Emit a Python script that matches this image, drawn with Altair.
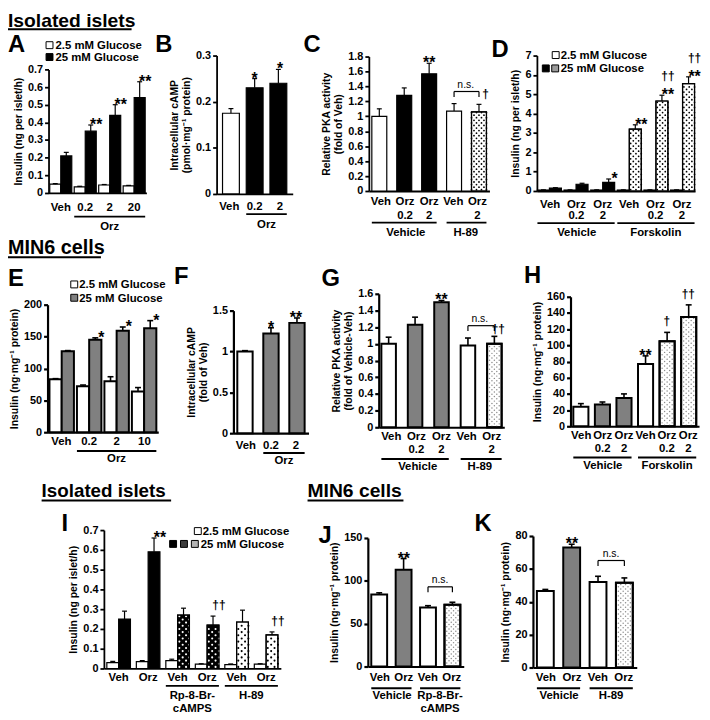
import altair as alt
import pandas as pd

FONT = "Liberation Sans"
W, H = 702, 712
MARGIN = 8

# ---------------- data ----------------
A_labels = ["Veh", "0.2", "2", "20"]
A_low = [0.050, 0.035, 0.045, 0.040]
A_low_err = [0.053, 0.038, 0.048, 0.043]
A_high = [0.21, 0.35, 0.44, 0.54]
A_high_err = [0.23, 0.385, 0.50, 0.63]
A_sig = ["", "**", "**", "**"]

B_labels = ["Veh", "0.2", "2"]
B_vals = [0.175, 0.23, 0.24]
B_err = [0.185, 0.25, 0.27]
B_sig = ["", "*", "*"]

C_row1 = ["Veh", "Orz", "Orz", "Veh", "Orz"]
C_row2 = ["", "0.2", "2", "", "2"]
C_vals = [1.00, 1.28, 1.57, 1.07, 1.06]
C_err = [1.10, 1.38, 1.71, 1.17, 1.16]
C_sig = ["", "", "**", "", ""]

D_row1 = ["Veh", "Orz", "Orz", "Veh", "Orz", "Orz"]
D_row2 = ["", "0.2", "2", "", "0.2", "2"]
D_low = [0.05, 0.05, 0.05, 0.05, 0.05, 0.05]
D_low_err = [0.06, 0.06, 0.06, 0.06, 0.06, 0.06]
D_high = [0.15, 0.35, 0.45, 3.20, 4.65, 5.55]
D_high_err = [0.17, 0.40, 0.62, 3.42, 4.95, 5.90]
D_sig = ["", "", "*", "**", "**††", "**††"]

E_labels = ["Veh", "0.2", "2", "10"]
E_low = [83, 72, 80, 64]
E_low_err = [84, 74, 87, 70]
E_high = [127, 145, 159, 163]
E_high_err = [128, 148, 165, 175]
E_sig = ["", "*", "*", "*"]

F_labels = ["Veh", "0.2", "2"]
F_vals = [1.00, 1.22, 1.35]
F_err = [1.01, 1.29, 1.41]
F_sig = ["", "*", "**"]

G_row1 = ["Veh", "Orz", "Orz", "Veh", "Orz"]
G_row2 = ["", "0.2", "2", "", "2"]
G_vals = [1.00, 1.23, 1.50, 0.98, 1.00]
G_err = [1.08, 1.32, 1.52, 1.07, 1.09]
G_sig = ["", "", "**", "", ""]

H_row1 = ["Veh", "Orz", "Orz", "Veh", "Orz", "Orz"]
H_row2 = ["", "0.2", "2", "", "0.2", "2"]
H_vals = [24, 27, 35, 77, 105, 135]
H_err = [28, 30, 40, 87, 116, 150]
H_sig = ["", "", "", "**", "†", "††"]

I_labels = ["Veh", "Orz", "Veh", "Orz", "Veh", "Orz"]
I_low = [0.030, 0.035, 0.040, 0.022, 0.020, 0.022]
I_low_err = [0.036, 0.040, 0.047, 0.024, 0.023, 0.024]
I_high = [0.25, 0.59, 0.27, 0.22, 0.235, 0.17]
I_high_err = [0.29, 0.66, 0.305, 0.265, 0.295, 0.185]
I_sig = ["", "**", "", "††", "", "††"]

J_labels = ["Veh", "Orz", "Veh", "Orz"]
J_vals = [84, 113, 69, 72]
J_err = [86, 126, 71, 75]
J_sig = ["", "**", "", ""]

K_labels = ["Veh", "Orz", "Veh", "Orz"]
K_vals = [46.5, 73, 52, 51.5]
K_err = [47.5, 75, 55.5, 54.5]
K_sig = ["", "**", "", ""]

LEG_LOW = "2.5 mM Glucose"
LEG_HIGH = "25 mM Glucose"

# ---------------- styles ----------------
KINDS = ["white", "black", "gray", "dots", "darkdots", "lightdots", "finedots"]
FILL = {"white": "white", "black": "black", "gray": "#808080", "dots": "white",
        "darkdots": "black", "lightdots": "white", "finedots": "white"}
SWATCH = {"white": "white", "black": "black", "gray": "#808080", "dots": "#9a9a9a",
          "darkdots": "#3c3c3c", "lightdots": "#b4b4b4", "finedots": "#d8d8d8"}
DOTS = {
    "dots": dict(color="black", size=3.2, gap=2.6, hgap=2.3),
    "darkdots": dict(color="white", size=4.5, gap=3.2, hgap=2.8),
    "lightdots": dict(color="black", size=4.5, gap=3.2, hgap=2.8),
    "finedots": dict(color="#8c8c8c", size=2.2, gap=2.3, hgap=2.1),
}

ONE = pd.DataFrame({"k": [0]})
layers = []


def P(v):
    return v - MARGIN


def add_text(text, x, y, size, weight="bold", align="left", baseline="alphabetic"):
    layers.append(alt.Chart(ONE).mark_text(
        text=text, font=FONT, fontSize=size, fontWeight=weight, align=align,
        baseline=baseline, color="black", opacity=1
    ).encode(x=alt.value(P(x)), y=alt.value(P(y))))


def add_hline(x0, x1, y, w):
    layers.append(alt.Chart(ONE).mark_rule(color="black", strokeWidth=w, opacity=1).encode(
        x=alt.value(P(x0)), x2=alt.value(P(x1)), y=alt.value(P(y))))


def add_swatch(kind, x, y, side=7):
    layers.append(alt.Chart(ONE).mark_square(
        size=side * side, fill=SWATCH[kind], stroke="black", strokeWidth=1, opacity=1
    ).encode(x=alt.value(P(x)), y=alt.value(P(y))))


def add_panel(c):
    n = len(c["row1"])
    keys = [f"{c['id']}{i}" for i in range(n)]
    series = c["series"]
    nser = len(series)
    step = (c["x1"] - c["x0"]) / (n - c["pi"] + 2 * c["po"])
    band = step * (1 - c["pi"])
    barw = band / nser
    ppu = (c["yb"] - c["yt"]) / c["ymax"]
    xs = alt.Scale(domain=keys, range=[P(c["x0"]), P(c["x1"])],
                   paddingInner=c["pi"], paddingOuter=c["po"])
    ys = alt.Scale(domain=[0, c["ymax"]], range=[P(c["yb"]), P(c["yt"])], nice=False)
    recs = []
    for si, s in enumerate(series):
        for i in range(n):
            sig = s["sig"][i] if s.get("sig") else ""
            recs.append({"cat": keys[i], "ser": s["name"], "si": si, "v": s["vals"][i],
                         "e": s["errs"][i], "kind": s["kinds"][i],
                         "ast": "*" * sig.count("*"), "dag": "†" * sig.count("†")})
    df = pd.DataFrame(recs)

    def X(axis=None):
        return alt.X("cat:N", scale=xs, axis=axis)

    def Yq(field, axis=None):
        return alt.Y(field, scale=ys, axis=axis)

    off = {}
    if nser > 1:
        off = {"xOffset": alt.XOffset("ser:N", scale=alt.Scale(
            domain=[s["name"] for s in series], paddingInner=0, paddingOuter=0))}

    yaxis = alt.Axis(
        orient="left", offset=-P(c["x0"]), values=c["ticks"], format="~r", title=c["title"],
        grid=False, domainColor="black", domainWidth=c["axw"], tickColor="black",
        tickWidth=c["axw"], tickSize=4, labelPadding=2, labelFont=FONT, labelFontSize=11,
        labelFontWeight="bold", labelColor="black", labelOverlap=False,
        titleFont=FONT, titleFontSize=10.5, titleFontWeight="bold", titleColor="black",
        titlePadding=c.get("tpad", 4))
    xaxis = alt.Axis(orient="bottom", offset=P(c["yb"]) - H, labels=False, ticks=False,
                     title="", grid=False, domainColor="black", domainWidth=c["axw"])

    # bars
    layers.append(alt.Chart(df).mark_bar(stroke="black", strokeWidth=c["sw"], opacity=1).encode(
        x=X(xaxis), y=Yq("v:Q", yaxis),
        color=alt.Color("kind:N", scale=alt.Scale(domain=KINDS, range=[FILL[k] for k in KINDS]),
                        legend=None), **off))

    # dotted textures
    for kind, d in DOTS.items():
        sub = df[df.kind == kind]
        if sub.empty:
            continue
        nc = max(2, int(round(barw / d["hgap"])))
        dv = d["gap"] / ppu
        rows = []
        for r in sub.itertuples():
            k = 0
            while (k + 0.8) * dv < r.v:
                for j in range(nc):
                    if (j + k) % 2 == 0:
                        rows.append({"cat": r.cat, "col": r.si * nc + j, "y": (k + 0.5) * dv})
                k += 1
        if not rows:
            continue
        ddf = pd.DataFrame(rows)
        layers.append(alt.Chart(ddf).mark_circle(size=d["size"], color=d["color"], opacity=1).encode(
            x=X(), y=Yq("y:Q"),
            xOffset=alt.XOffset("col:O", scale=alt.Scale(domain=list(range(nc * nser)),
                                                         paddingInner=0, paddingOuter=0))))
    dd = df[df.kind.isin(list(DOTS))]
    if not dd.empty:
        layers.append(alt.Chart(dd).mark_bar(stroke="black", strokeWidth=c["sw"], fillOpacity=0,
                                             opacity=1).encode(x=X(), y=Yq("v:Q"), **off))

    # error bars
    de = df[df.e > df.v + 1e-9]
    layers.append(alt.Chart(de).mark_rule(color="black", strokeWidth=c["ew"], opacity=1).encode(
        x=X(), y=Yq("v:Q"), y2="e:Q", **off))
    layers.append(alt.Chart(de).mark_tick(color="black", thickness=c["ew"], size=c["cap"],
                                          orient="horizontal", opacity=1).encode(
        x=X(), y=Yq("e:Q"), **off))

    # significance marks
    da = df[df.ast != ""]
    if not da.empty:
        layers.append(alt.Chart(da).mark_text(font=FONT, fontSize=16, fontWeight="bold",
                                              baseline="alphabetic", dy=5, color="black", opacity=1).encode(
            x=X(), y=Yq("e:Q"), text="ast:N", **off))
    dg1 = df[(df.dag != "") & (df.ast == "")]
    if not dg1.empty:
        layers.append(alt.Chart(dg1).mark_text(font=FONT, fontSize=12, fontWeight="bold",
                                               baseline="alphabetic", dy=-7, color="black", opacity=1).encode(
            x=X(), y=Yq("e:Q"), text="dag:N", **off))
    dg2 = df[(df.dag != "") & (df.ast != "")]
    if not dg2.empty:
        layers.append(alt.Chart(dg2).mark_text(font=FONT, fontSize=12, fontWeight="bold",
                                               baseline="alphabetic", dy=-15, color="black", opacity=1).encode(
            x=X(), y=Yq("e:Q"), text="dag:N", **off))

    # n.s. bracket
    if "ns" in c:
        a, b = c["ns"]
        errs = series[-1]["errs"]
        lvl = max(errs[a], errs[b]) + c["ns_pad"] * c["ymax"]
        leg = 5.5 / ppu
        bdf = pd.DataFrame({"s": [keys[a]], "t": [keys[b]], "lvl": [lvl]})
        layers.append(alt.Chart(bdf).mark_rule(color="black", strokeWidth=1.2, opacity=1).encode(
            x=alt.X("s:N", scale=xs, axis=None, bandPosition=0.5),
            x2=alt.X2("t:N", bandPosition=0.5), y=Yq("lvl:Q")))
        legs = pd.DataFrame({"cat": [keys[a], keys[b]], "lvl": [lvl, lvl],
                             "low": [lvl - leg, lvl - leg]})
        layers.append(alt.Chart(legs).mark_rule(color="black", strokeWidth=1.2, opacity=1).encode(
            x=X(), y=Yq("lvl:Q"), y2="low:Q"))
        layers.append(alt.Chart(bdf).mark_text(text="n.s.", font=FONT, fontSize=10.5,
                                               baseline="bottom", dx=step / 2, dy=-2,
                                               color="black", opacity=1).encode(
            x=alt.X("s:N", scale=xs, axis=None), y=Yq("lvl:Q")))
        if c.get("ns_dag"):
            layers.append(alt.Chart(bdf).mark_text(text=c["ns_dag"], font=FONT, fontSize=12,
                                                   fontWeight="bold", align="left", baseline="middle",
                                                   dx=c.get("ns_dx", 5), dy=3, color="black",
                                                   opacity=1).encode(
                x=alt.X("t:N", scale=xs, axis=None), y=Yq("lvl:Q")))

    # category labels
    ldf = pd.DataFrame({"cat": keys, "r1": c["row1"],
                        "r2": c["row2"] if c.get("row2") else [""] * n})
    layers.append(alt.Chart(ldf).mark_text(font=FONT, fontSize=11.5, fontWeight="bold",
                                           baseline="middle", color="black", opacity=1).encode(
        x=X(), y=alt.value(P(c["lab1"])), text="r1:N"))
    if c.get("row2"):
        layers.append(alt.Chart(ldf).mark_text(font=FONT, fontSize=11.5, fontWeight="bold",
                                               baseline="middle", color="black", opacity=1).encode(
            x=X(), y=alt.value(P(c["lab2"])), text="r2:N"))

    # treatment groups
    for (s, t, lines) in c["groups"]:
        g = pd.DataFrame({"s": [keys[s]], "t": [keys[t]]})
        layers.append(alt.Chart(g).mark_rule(color="black", strokeWidth=c["gw"], opacity=1).encode(
            x=alt.X("s:N", scale=xs, axis=None, bandPosition=0),
            x2=alt.X2("t:N", bandPosition=1), y=alt.value(P(c["gline"]))))
        half = (t - s) * step / 2
        for li, line in enumerate(lines):
            layers.append(alt.Chart(g).mark_text(text=line, font=FONT, fontSize=11.5,
                                                 fontWeight="bold", baseline="middle", dx=half,
                                                 color="black", opacity=1).encode(
                x=alt.X("s:N", scale=xs, axis=None),
                y=alt.value(P(c["glab"] + 13 * li))))


ISLET = dict(sw=1.2, axw=1.8, ew=1.2, cap=5, gw=1.8)
MIN6 = dict(sw=2.0, axw=2.2, ew=1.6, cap=6, gw=2.0)
INS_ISLET = "Insulin (ng per islet/h)"
INS_MIN6 = "Insulin (ng·mg⁻¹ protein)"

panels = [
    dict(id="A", row1=A_labels, row2=None,
         series=[dict(name="lo", vals=A_low, errs=A_low_err, kinds=["white"] * 4),
                 dict(name="hi", vals=A_high, errs=A_high_err, kinds=["black"] * 4, sig=A_sig)],
         x0=49, x1=148, pi=0.1, po=0.05, yb=191, yt=66, ymax=0.7,
         ticks=[0, 0.1, 0.2, 0.3, 0.4, 0.5, 0.6, 0.7], title=INS_ISLET,
         lab1=206.5, gline=215, glab=225, groups=[(1, 3, ["Orz"])], **ISLET),
    dict(id="B", row1=B_labels, row2=None,
         series=[dict(name="one", vals=B_vals, errs=B_err, kinds=["white", "black", "black"], sig=B_sig)],
         x0=219, x1=296, pi=0.29, po=0.25, yb=192, yt=52, ymax=0.3,
         ticks=[0, 0.1, 0.2, 0.3], title=["Intracellular cAMP", "(pmol·mg⁻¹ protein)"],
         lab1=205, gline=212.5, glab=223, groups=[(1, 2, ["Orz"])], **ISLET),
    dict(id="C", row1=C_row1, row2=C_row2,
         series=[dict(name="one", vals=C_vals, errs=C_err,
                      kinds=["white", "black", "black", "white", "dots"], sig=C_sig)],
         x0=373, x1=495, pi=0.4, po=0.12, yb=189, yt=53, ymax=1.8,
         ticks=[0, 0.2, 0.4, 0.6, 0.8, 1, 1.2, 1.4, 1.6, 1.8],
         title=["Relative PKA activity", "(fold of Veh)"],
         lab1=200, lab2=214.5, gline=221, glab=231.5,
         groups=[(0, 2, ["Vehicle"]), (3, 4, ["H-89"])],
         ns=(3, 4), ns_pad=0.09, ns_dag="†", ns_dx=5, **ISLET),
    dict(id="D", row1=D_row1, row2=D_row2,
         series=[dict(name="lo", vals=D_low, errs=D_low_err, kinds=["white"] * 6),
                 dict(name="hi", vals=D_high, errs=D_high_err,
                      kinds=["black", "black", "black", "dots", "dots", "dots"], sig=D_sig)],
         x0=543, x1=703, pi=0.1, po=0.02, yb=189, yt=52, ymax=7,
         ticks=[0, 1, 2, 3, 4, 5, 6, 7], title=INS_ISLET,
         lab1=203, lab2=214.5, gline=221.5, glab=232,
         groups=[(0, 2, ["Vehicle"]), (3, 5, ["Forskolin"])], **ISLET),
    dict(id="E", row1=E_labels, row2=None,
         series=[dict(name="lo", vals=E_low, errs=E_low_err, kinds=["white"] * 4),
                 dict(name="hi", vals=E_high, errs=E_high_err, kinds=["gray"] * 4, sig=E_sig)],
         x0=48, x1=160, pi=0.11, po=0.07, yb=433, yt=304, ymax=200,
         ticks=[0, 50, 100, 150, 200], title=INS_MIN6,
         lab1=443, gline=452, glab=460.5, groups=[(1, 3, ["Orz"])], **MIN6),
    dict(id="F", row1=F_labels, row2=None,
         series=[dict(name="one", vals=F_vals, errs=F_err, kinds=["white", "gray", "gray"], sig=F_sig)],
         x0=236, x1=312, pi=0.41, po=0.15, yb=434, yt=310, ymax=1.5,
         ticks=[0, 0.5, 1, 1.5], title=["Intracellular cAMP", "(fold of Veh)"],
         lab1=447, gline=454, glab=462, groups=[(1, 2, ["Orz"])], **MIN6),
    dict(id="G", row1=G_row1, row2=G_row2,
         series=[dict(name="one", vals=G_vals, errs=G_err,
                      kinds=["white", "gray", "gray", "white", "finedots"], sig=G_sig)],
         x0=383, x1=510, pi=0.45, po=0.1, yb=428, yt=293, ymax=1.6,
         ticks=[0, 0.2, 0.4, 0.6, 0.8, 1, 1.2, 1.4, 1.6],
         title=["Relative PKA activity", "(fold of Vehicle-Veh)"],
         lab1=438, lab2=451.5, gline=460, glab=468,
         groups=[(0, 2, ["Vehicle"]), (3, 4, ["H-89"])],
         ns=(3, 4), ns_pad=0.08, ns_dag="††", ns_dx=0, **MIN6),
    dict(id="H", row1=H_row1, row2=H_row2,
         series=[dict(name="one", vals=H_vals, errs=H_err,
                      kinds=["white", "gray", "gray", "white", "finedots", "finedots"], sig=H_sig)],
         x0=577, x1=707, pi=0.3, po=0.13, yb=427, yt=296, ymax=160,
         ticks=[0, 20, 40, 60, 80, 100, 120, 140, 160], title=INS_MIN6,
         lab1=437, lab2=450, gline=458.5, glab=467,
         groups=[(0, 2, ["Vehicle"]), (3, 5, ["Forskolin"])], **MIN6),
    dict(id="I", row1=I_labels, row2=None,
         series=[dict(name="lo", vals=I_low, errs=I_low_err, kinds=["white"] * 6),
                 dict(name="hi", vals=I_high, errs=I_high_err,
                      kinds=["black", "black", "darkdots", "darkdots", "lightdots", "lightdots"],
                      sig=I_sig)],
         x0=105, x1=284, pi=0.2, po=0.1, yb=672, yt=532, ymax=0.7,
         ticks=[0, 0.1, 0.2, 0.3, 0.4, 0.5, 0.6, 0.7], title=INS_ISLET,
         lab1=682, gline=689.5, glab=700,
         groups=[(2, 3, ["Rp-8-Br-", "cAMPS"]), (4, 5, ["H-89"])], **ISLET),
    dict(id="J", row1=J_labels, row2=None,
         series=[dict(name="one", vals=J_vals, errs=J_err,
                      kinds=["white", "gray", "white", "finedots"], sig=J_sig)],
         x0=372, x1=469, pi=0.35, po=0.14, yb=670, yt=540, ymax=150,
         ticks=[0, 50, 100, 150], title=INS_MIN6,
         lab1=682, gline=692, glab=700,
         groups=[(0, 1, ["Vehicle"]), (2, 3, ["Rp-8-Br-", "cAMPS"])],
         ns=(2, 3), ns_pad=0.12, **MIN6),
    dict(id="K", row1=K_labels, row2=None,
         series=[dict(name="one", vals=K_vals, errs=K_err,
                      kinds=["white", "gray", "white", "finedots"], sig=K_sig)],
         x0=539, x1=644, pi=0.36, po=0.15, yb=671, yt=538, ymax=80,
         ticks=[0, 20, 40, 60, 80], title=INS_MIN6,
         lab1=682, gline=692, glab=700,
         groups=[(0, 1, ["Vehicle"]), (2, 3, ["H-89"])],
         ns=(2, 3), ns_pad=0.12, **MIN6),
]

for pc in panels:
    add_panel(pc)

# section headings (y = text baseline)
add_text("Isolated islets", 8, 23, 19.5)
add_hline(8, 133, 25.5, 2)
add_text("MIN6 cells", 8, 253, 20)
add_hline(8, 102, 256, 2)
add_text("Isolated islets", 42, 499, 19)
add_hline(42, 173, 502, 2)
add_text("MIN6 cells", 311, 499, 19.5)
add_hline(311, 408, 502, 2)

# panel letters (y = baseline)
for letter, lx, ly in [("A", 8, 48), ("B", 157, 48), ("C", 307, 48), ("D", 497, 53),
                       ("E", 8, 285), ("F", 176, 283), ("G", 325, 285), ("H", 530, 282),
                       ("I", 62, 533), ("J", 322, 545), ("K", 480, 533)]:
    add_text(letter, lx, ly, 24)

# legends
add_swatch("white", 50, 41.5); add_text(LEG_LOW, 56, 45.5, 11.5)
add_swatch("black", 50, 53.5); add_text(LEG_HIGH, 56, 57.5, 11.5)

add_swatch("white", 562, 51.5); add_text(LEG_LOW, 567, 55.5, 11.5)
add_swatch("black", 552, 65); add_swatch("dots", 561.5, 65); add_text(LEG_HIGH, 567, 69, 11.5)

add_swatch("white", 75, 283.5); add_text(LEG_LOW, 80, 287.5, 11.5)
add_swatch("gray", 75, 297); add_text(LEG_HIGH, 80, 301, 11.5)

add_swatch("white", 200, 533); add_text(LEG_LOW, 205, 537, 11.5)
add_swatch("black", 175, 546); add_swatch("darkdots", 186, 546); add_swatch("lightdots", 197, 546)
add_text(LEG_HIGH, 203, 550, 11.5)

chart = alt.layer(*layers).resolve_scale(
    x="independent", y="independent", color="independent", xOffset="independent"
).resolve_axis(x="independent", y="independent").properties(
    width=W, height=H, padding=0, background="white",
    autosize=alt.AutoSizeParams(type="none")
).configure_view(stroke=None)

chart.save("out.html", embed_options={"renderer": "svg", "actions": False})
